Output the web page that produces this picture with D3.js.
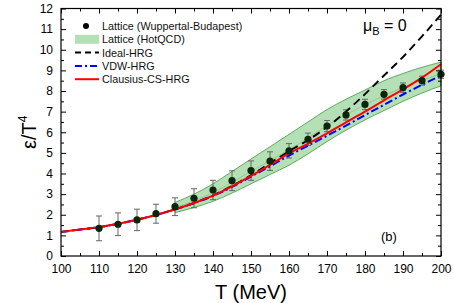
<!DOCTYPE html>
<html>
<head>
<meta charset="utf-8">
<script src="https://cdn.jsdelivr.net/npm/d3@7"></script>
<style>
  body { margin: 0; background: #fff; }
  svg { display: block; font-family: "Liberation Sans", Arial, sans-serif; }
</style>
</head>
<body>
<div id="chart"></div>
<script>
// temperature grid for the model curves (MeV)
const modelT = [100, 105, 110, 115, 120, 125, 130, 135, 140, 145, 150, 155, 160, 165, 170, 175, 180, 185, 190, 195, 200];
const clausiusHRG = [1.17, 1.28, 1.4, 1.56, 1.76, 1.99, 2.26, 2.57, 2.93, 3.38, 3.88, 4.42, 4.97, 5.45, 5.95, 6.48, 7.0, 7.55, 8.08, 8.65, 9.3];
const idealHRG = [1.17, 1.28, 1.4, 1.56, 1.76, 1.99, 2.26, 2.57, 2.94, 3.4, 3.92, 4.5, 5.08, 5.62, 6.25, 7.0, 7.85, 8.75, 9.65, 10.65, 11.7];
const vdwHRG = [1.17, 1.28, 1.4, 1.56, 1.76, 1.99, 2.26, 2.56, 2.91, 3.35, 3.85, 4.35, 4.87, 5.35, 5.83, 6.32, 6.83, 7.33, 7.83, 8.3, 8.75];

// Wuppertal-Budapest lattice points
const wbT = [110, 115, 120, 125, 130, 135, 140, 145, 150, 155, 160, 165, 170, 175, 180, 185, 190, 195, 200];
const wbE = [1.34, 1.54, 1.75, 2.05, 2.39, 2.8, 3.2, 3.65, 4.14, 4.6, 5.1, 5.66, 6.3, 6.84, 7.35, 7.84, 8.16, 8.5, 8.81];
const wbErr = [0.6, 0.55, 0.52, 0.46, 0.43, 0.46, 0.47, 0.48, 0.47, 0.45, 0.35, 0.3, 0.27, 0.25, 0.25, 0.23, 0.23, 0.22, 0.2];

// HotQCD band
const hotT = [130, 135, 140, 145, 150, 155, 160, 165, 170, 175, 180, 185, 190, 195, 200];
const hotLow = [2.1, 2.35, 2.65, 3.05, 3.5, 3.95, 4.4, 4.95, 5.55, 6.1, 6.6, 7.05, 7.5, 7.9, 8.25];
const hotHigh = [2.6, 3.0, 3.5, 4.1, 4.7, 5.3, 5.9, 6.5, 7.1, 7.6, 8.05, 8.5, 8.85, 9.15, 9.4];

const xTicks = [100, 110, 120, 130, 140, 150, 160, 170, 180, 190, 200];
const yTicks = [0, 1, 2, 3, 4, 5, 6, 7, 8, 9, 10, 11, 12];

const width = 454, height = 303;
const margin = { top: 8.5, right: 13, bottom: 47, left: 61 };

const svg = d3.select('#chart').append('svg')
    .attr('width', width)
    .attr('height', height);

const x = d3.scaleLinear().domain([100, 200]).range([margin.left, width - margin.right]);
const y = d3.scaleLinear().domain([0, 12]).range([height - margin.bottom, margin.top]);

// band
const band = hotT.map((t, i) => ({ t: t, lo: hotLow[i], hi: hotHigh[i] }));
svg.append('path')
    .datum(band)
    .attr('d', d3.area().x(d => x(d.t)).y0(d => y(d.lo)).y1(d => y(d.hi)).curve(d3.curveMonotoneX))
    .attr('fill', '#5cb85c')
    .attr('fill-opacity', 0.45)
    .attr('stroke', '#3c9c3c')
    .attr('stroke-width', 0.8);
svg.append('path')
    .datum(band)
    .attr('d', d3.line().x(d => x(d.t)).y(d => y((d.lo + d.hi) / 2)).curve(d3.curveMonotoneX))
    .attr('fill', 'none')
    .attr('stroke', '#6fbf6f')
    .attr('stroke-width', 0.6);

// error bars + points
const pts = wbT.map((t, i) => ({ t: t, e: wbE[i], err: wbErr[i] }));
const eb = svg.append('g').attr('stroke', '#666').attr('stroke-width', 1);
eb.selectAll('line.v').data(pts).join('line')
    .attr('x1', d => x(d.t)).attr('x2', d => x(d.t))
    .attr('y1', d => y(d.e - d.err)).attr('y2', d => y(d.e + d.err));
eb.selectAll('line.top').data(pts).join('line')
    .attr('x1', d => x(d.t) - 3).attr('x2', d => x(d.t) + 3)
    .attr('y1', d => y(d.e + d.err)).attr('y2', d => y(d.e + d.err));
eb.selectAll('line.bot').data(pts).join('line')
    .attr('x1', d => x(d.t) - 3).attr('x2', d => x(d.t) + 3)
    .attr('y1', d => y(d.e - d.err)).attr('y2', d => y(d.e - d.err));

// model curves
const curve = (vals) => d3.line()
    .x((d, i) => x(modelT[i]))
    .y(d => y(d))
    .curve(d3.curveMonotoneX)(vals);

svg.append('path').attr('d', curve(idealHRG))
    .attr('fill', 'none').attr('stroke', '#000').attr('stroke-width', 1.9)
    .attr('stroke-dasharray', '8,5');
svg.append('path').attr('d', curve(vdwHRG))
    .attr('fill', 'none').attr('stroke', '#0000ff').attr('stroke-width', 2)
    .attr('stroke-dasharray', '8,3,2,3');
svg.append('path').attr('d', curve(clausiusHRG))
    .attr('fill', 'none').attr('stroke', '#ff0000').attr('stroke-width', 2);

svg.append('g').selectAll('circle').data(pts).join('circle')
    .attr('cx', d => x(d.t)).attr('cy', d => y(d.e))
    .attr('r', 3.6)
    .attr('fill', '#0a260a');

// axes with inward ticks
const minorX = d3.range(105, 200, 10);
const minorY = d3.range(0.5, 12, 1);
const fmt = d3.format('d');

function styleAxis(g) {
    g.select('.domain').remove();
    g.selectAll('.tick line').attr('stroke', '#000');
    g.selectAll('.tick text').attr('font-size', 12).attr('fill', '#000')
        .attr('font-family', '"Liberation Sans", Arial, sans-serif');
}

const bottomY = height - margin.bottom;
svg.append('g').attr('transform', `translate(0,${bottomY})`)
    .call(d3.axisBottom(x).tickValues(xTicks).tickFormat(fmt).tickSizeInner(-5).tickPadding(8))
    .call(styleAxis);
svg.append('g').attr('transform', `translate(0,${bottomY})`)
    .call(d3.axisBottom(x).tickValues(minorX).tickFormat('').tickSizeInner(-3))
    .call(styleAxis);
svg.append('g').attr('transform', `translate(0,${margin.top})`)
    .call(d3.axisTop(x).tickValues(xTicks).tickFormat('').tickSizeInner(-5))
    .call(styleAxis);
svg.append('g').attr('transform', `translate(0,${margin.top})`)
    .call(d3.axisTop(x).tickValues(minorX).tickFormat('').tickSizeInner(-3))
    .call(styleAxis);

svg.append('g').attr('transform', `translate(${margin.left},0)`)
    .call(d3.axisLeft(y).tickValues(yTicks).tickFormat(fmt).tickSizeInner(-5).tickPadding(8))
    .call(styleAxis);
svg.append('g').attr('transform', `translate(${margin.left},0)`)
    .call(d3.axisLeft(y).tickValues(minorY).tickFormat('').tickSizeInner(-3))
    .call(styleAxis);
svg.append('g').attr('transform', `translate(${width - margin.right},0)`)
    .call(d3.axisRight(y).tickValues(yTicks).tickFormat('').tickSizeInner(-5))
    .call(styleAxis);
svg.append('g').attr('transform', `translate(${width - margin.right},0)`)
    .call(d3.axisRight(y).tickValues(minorY).tickFormat('').tickSizeInner(-3))
    .call(styleAxis);

// frame
svg.append('rect')
    .attr('x', margin.left).attr('y', margin.top)
    .attr('width', width - margin.left - margin.right)
    .attr('height', height - margin.top - margin.bottom)
    .attr('fill', 'none').attr('stroke', '#000').attr('stroke-width', 1.2);

// axis titles
svg.append('text')
    .attr('x', x(150)).attr('y', 299)
    .attr('text-anchor', 'middle')
    .attr('font-size', 20)
    .text('T (MeV)');

const yt = svg.append('text')
    .attr('transform', `translate(36,${y(6)}) rotate(-90)`)
    .attr('text-anchor', 'middle')
    .attr('font-size', 20);
yt.append('tspan').text('ε/T');
yt.append('tspan').attr('font-size', 12).attr('dy', -9).text('4');

// annotations
const mu = svg.append('text').attr('x', 363).attr('y', 31).attr('font-size', 16);
mu.append('tspan').text('μ');
mu.append('tspan').attr('font-size', 11).attr('dy', 4).text('B');
mu.append('tspan').attr('dy', -4).text(' = 0');

svg.append('text').attr('x', 381).attr('y', 241).attr('font-size', 13).text('(b)');

// legend
const legendItems = [
    { label: 'Lattice (Wuppertal-Budapest)', kind: 'dot' },
    { label: 'Lattice (HotQCD)', kind: 'band' },
    { label: 'Ideal-HRG', kind: 'line', color: '#000', dash: '6,4' },
    { label: 'VDW-HRG', kind: 'line', color: '#0000ff', dash: '7,3,2,3' },
    { label: 'Clausius-CS-HRG', kind: 'line', color: '#ff0000', dash: null }
];
const lg = svg.append('g');
legendItems.forEach((d, i) => {
    const cy = 26 + i * 13.3;
    if (d.kind === 'dot') {
        lg.append('circle').attr('cx', 86).attr('cy', cy).attr('r', 3).attr('fill', '#000');
    } else if (d.kind === 'band') {
        lg.append('rect').attr('x', 75).attr('y', cy - 4.5).attr('width', 24).attr('height', 9)
            .attr('fill', '#5cb85c').attr('fill-opacity', 0.45);
    } else {
        lg.append('line').attr('x1', 75).attr('x2', 99).attr('y1', cy).attr('y2', cy)
            .attr('stroke', d.color).attr('stroke-width', 2)
            .attr('stroke-dasharray', d.dash);
    }
    lg.append('text').attr('x', 102).attr('y', cy + 4)
        .attr('font-size', 10.8).attr('fill', '#111')
        .text(d.label);
});
</script>
</body>
</html>
